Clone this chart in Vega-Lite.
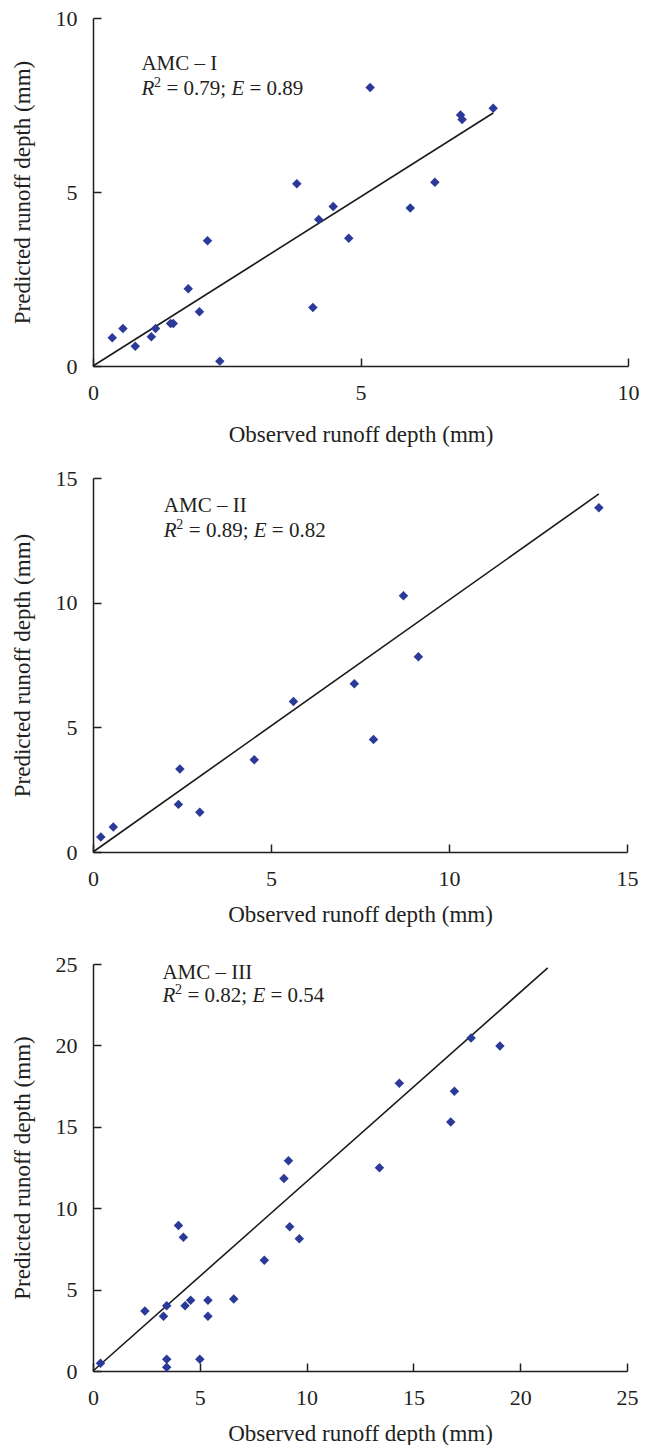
{
  "$schema": "https://vega.github.io/schema/vega-lite/v6.json",
  "padding": {"top": 7, "left": 11, "right": 0, "bottom": 0},
  "spacing": 21,
  "datasets": {
    "p1": [
      {"obs": 0.36, "pred": 0.81}, {"obs": 0.56, "pred": 1.08}, {"obs": 0.79, "pred": 0.57},
      {"obs": 1.09, "pred": 0.84}, {"obs": 1.17, "pred": 1.08}, {"obs": 1.45, "pred": 1.22},
      {"obs": 1.50, "pred": 1.22}, {"obs": 1.78, "pred": 2.22}, {"obs": 1.99, "pred": 1.56},
      {"obs": 2.14, "pred": 3.60}, {"obs": 2.37, "pred": 0.14}, {"obs": 3.81, "pred": 5.24},
      {"obs": 4.11, "pred": 1.68}, {"obs": 4.22, "pred": 4.21}, {"obs": 4.49, "pred": 4.58},
      {"obs": 4.78, "pred": 3.67}, {"obs": 5.18, "pred": 8.00}, {"obs": 5.93, "pred": 4.54},
      {"obs": 6.39, "pred": 5.28}, {"obs": 6.87, "pred": 7.21}, {"obs": 6.90, "pred": 7.08},
      {"obs": 7.48, "pred": 7.41}
    ],
    "l1": [{"obs": 0, "pred": 0}, {"obs": 7.48, "pred": 7.27}],
    "a1": [{"ax": 0.905, "y1": 8.52, "y2": 7.80, "amc": "AMC – I", "r2": "= 0.79;", "e": "= 0.89"}],
    "p2": [
      {"obs": 0.22, "pred": 0.60}, {"obs": 0.57, "pred": 1.00}, {"obs": 2.44, "pred": 3.33},
      {"obs": 2.40, "pred": 1.91}, {"obs": 3.00, "pred": 1.59}, {"obs": 4.53, "pred": 3.70},
      {"obs": 5.63, "pred": 6.04}, {"obs": 7.34, "pred": 6.75}, {"obs": 7.88, "pred": 4.51},
      {"obs": 8.72, "pred": 10.28}, {"obs": 9.14, "pred": 7.83}, {"obs": 14.21, "pred": 13.81}
    ],
    "l2": [{"obs": 0, "pred": 0}, {"obs": 14.21, "pred": 14.36}],
    "a2": [{"ax": 1.99, "y1": 13.64, "y2": 12.64, "amc": "AMC – II", "r2": "= 0.89;", "e": "= 0.82"}],
    "p3": [
      {"obs": 0.35, "pred": 0.47}, {"obs": 2.43, "pred": 3.68}, {"obs": 3.30, "pred": 3.36},
      {"obs": 3.45, "pred": 4.01}, {"obs": 3.45, "pred": 0.72}, {"obs": 3.45, "pred": 0.23},
      {"obs": 4.00, "pred": 8.94}, {"obs": 4.23, "pred": 8.21}, {"obs": 4.31, "pred": 4.01},
      {"obs": 4.57, "pred": 4.34}, {"obs": 5.00, "pred": 0.72}, {"obs": 5.38, "pred": 4.34},
      {"obs": 5.38, "pred": 3.36}, {"obs": 6.59, "pred": 4.42}, {"obs": 8.02, "pred": 6.81},
      {"obs": 8.94, "pred": 11.83}, {"obs": 9.15, "pred": 12.91}, {"obs": 9.21, "pred": 8.86},
      {"obs": 9.66, "pred": 8.12}, {"obs": 13.41, "pred": 12.48}, {"obs": 14.34, "pred": 17.68},
      {"obs": 16.75, "pred": 15.29}, {"obs": 16.92, "pred": 17.19}, {"obs": 17.70, "pred": 20.46},
      {"obs": 19.05, "pred": 19.97}
    ],
    "l3": [{"obs": 0, "pred": 0}, {"obs": 21.29, "pred": 24.76}],
    "a3": [{"ax": 3.25, "y1": 24.08, "y2": 22.65, "amc": "AMC – III", "r2": "= 0.82;", "e": "= 0.54"}]
  },
  "vconcat": [
    {
      "width": 535, "height": 348,
      "layer": [
        {
          "data": {"name": "l1"},
          "mark": {"type": "line", "color": "#1a1a1a", "strokeWidth": 1.6},
          "encoding": {
            "x": {"field": "obs", "type": "quantitative", "scale": {"domain": [0, 10], "nice": false},
                  "axis": {"values": [0, 5, 10], "title": "Observed runoff depth (mm)", "titlePadding": 20}},
            "y": {"field": "pred", "type": "quantitative", "scale": {"domain": [0, 10], "nice": false},
                  "axis": {"values": [0, 5, 10], "title": "Predicted runoff depth (mm)"}}
          }
        },
        {
          "data": {"name": "p1"},
          "mark": {"type": "point", "shape": "diamond", "filled": true, "size": 90, "color": "#2B3A98", "opacity": 1},
          "encoding": {
            "x": {"field": "obs", "type": "quantitative"},
            "y": {"field": "pred", "type": "quantitative"}
          }
        },
        {
          "data": {"name": "a1"},
          "layer": [
            {"mark": {"type": "text", "align": "left", "baseline": "alphabetic", "fontSize": 21, "color": "#231F20"},
             "encoding": {"x": {"field": "ax", "type": "quantitative"}, "y": {"field": "y1", "type": "quantitative"}, "text": {"field": "amc"}}},
            {"mark": {"type": "text", "align": "left", "baseline": "alphabetic", "fontSize": 21, "fontStyle": "italic", "color": "#231F20", "text": "R"},
             "encoding": {"x": {"field": "ax", "type": "quantitative"}, "y": {"field": "y2", "type": "quantitative"}}},
            {"mark": {"type": "text", "align": "left", "baseline": "alphabetic", "fontSize": 14, "dx": 12.5, "dy": -8, "color": "#231F20", "text": "2"},
             "encoding": {"x": {"field": "ax", "type": "quantitative"}, "y": {"field": "y2", "type": "quantitative"}}},
            {"mark": {"type": "text", "align": "left", "baseline": "alphabetic", "fontSize": 21, "dx": 25, "color": "#231F20"},
             "encoding": {"x": {"field": "ax", "type": "quantitative"}, "y": {"field": "y2", "type": "quantitative"}, "text": {"field": "r2"}}},
            {"mark": {"type": "text", "align": "left", "baseline": "alphabetic", "fontSize": 21, "fontStyle": "italic", "dx": 90, "color": "#231F20", "text": "E"},
             "encoding": {"x": {"field": "ax", "type": "quantitative"}, "y": {"field": "y2", "type": "quantitative"}}},
            {"mark": {"type": "text", "align": "left", "baseline": "alphabetic", "fontSize": 21, "dx": 108, "color": "#231F20"},
             "encoding": {"x": {"field": "ax", "type": "quantitative"}, "y": {"field": "y2", "type": "quantitative"}, "text": {"field": "e"}}}
          ]
        }
      ]
    },
    {
      "spacing": 27,
      "vconcat": [
        {
          "width": 534, "height": 374,
          "layer": [
            {
              "data": {"name": "l2"},
              "mark": {"type": "line", "color": "#1a1a1a", "strokeWidth": 1.6},
              "encoding": {
                "x": {"field": "obs", "type": "quantitative", "scale": {"domain": [0, 15], "nice": false},
                      "axis": {"values": [0, 5, 10, 15], "title": "Observed runoff depth (mm)", "titlePadding": 14}},
                "y": {"field": "pred", "type": "quantitative", "scale": {"domain": [0, 15], "nice": false},
                      "axis": {"values": [0, 5, 10, 15], "title": "Predicted runoff depth (mm)"}}
              }
            },
            {
              "data": {"name": "p2"},
              "mark": {"type": "point", "shape": "diamond", "filled": true, "size": 90, "color": "#2B3A98", "opacity": 1},
              "encoding": {
                "x": {"field": "obs", "type": "quantitative"},
                "y": {"field": "pred", "type": "quantitative"}
              }
            },
            {
              "data": {"name": "a2"},
              "layer": [
                {"mark": {"type": "text", "align": "left", "baseline": "alphabetic", "fontSize": 21, "color": "#231F20"},
                 "encoding": {"x": {"field": "ax", "type": "quantitative"}, "y": {"field": "y1", "type": "quantitative"}, "text": {"field": "amc"}}},
                {"mark": {"type": "text", "align": "left", "baseline": "alphabetic", "fontSize": 21, "fontStyle": "italic", "color": "#231F20", "text": "R"},
                 "encoding": {"x": {"field": "ax", "type": "quantitative"}, "y": {"field": "y2", "type": "quantitative"}}},
                {"mark": {"type": "text", "align": "left", "baseline": "alphabetic", "fontSize": 14, "dx": 12.5, "dy": -8, "color": "#231F20", "text": "2"},
                 "encoding": {"x": {"field": "ax", "type": "quantitative"}, "y": {"field": "y2", "type": "quantitative"}}},
                {"mark": {"type": "text", "align": "left", "baseline": "alphabetic", "fontSize": 21, "dx": 25, "color": "#231F20"},
                 "encoding": {"x": {"field": "ax", "type": "quantitative"}, "y": {"field": "y2", "type": "quantitative"}, "text": {"field": "r2"}}},
                {"mark": {"type": "text", "align": "left", "baseline": "alphabetic", "fontSize": 21, "fontStyle": "italic", "dx": 90, "color": "#231F20", "text": "E"},
                 "encoding": {"x": {"field": "ax", "type": "quantitative"}, "y": {"field": "y2", "type": "quantitative"}}},
                {"mark": {"type": "text", "align": "left", "baseline": "alphabetic", "fontSize": 21, "dx": 108, "color": "#231F20"},
                 "encoding": {"x": {"field": "ax", "type": "quantitative"}, "y": {"field": "y2", "type": "quantitative"}, "text": {"field": "e"}}}
              ]
            }
          ]
        },
        {
          "width": 534, "height": 407,
          "layer": [
            {
              "data": {"name": "l3"},
              "mark": {"type": "line", "color": "#1a1a1a", "strokeWidth": 1.6},
              "encoding": {
                "x": {"field": "obs", "type": "quantitative", "scale": {"domain": [0, 25], "nice": false},
                      "axis": {"values": [0, 5, 10, 15, 20, 25], "title": "Observed runoff depth (mm)", "titlePadding": 14}},
                "y": {"field": "pred", "type": "quantitative", "scale": {"domain": [0, 25], "nice": false},
                      "axis": {"values": [0, 5, 10, 15, 20, 25], "title": "Predicted runoff depth (mm)"}}
              }
            },
            {
              "data": {"name": "p3"},
              "mark": {"type": "point", "shape": "diamond", "filled": true, "size": 90, "color": "#2B3A98", "opacity": 1},
              "encoding": {
                "x": {"field": "obs", "type": "quantitative"},
                "y": {"field": "pred", "type": "quantitative"}
              }
            },
            {
              "data": {"name": "a3"},
              "layer": [
                {"mark": {"type": "text", "align": "left", "baseline": "alphabetic", "fontSize": 21, "color": "#231F20"},
                 "encoding": {"x": {"field": "ax", "type": "quantitative"}, "y": {"field": "y1", "type": "quantitative"}, "text": {"field": "amc"}}},
                {"mark": {"type": "text", "align": "left", "baseline": "alphabetic", "fontSize": 21, "fontStyle": "italic", "color": "#231F20", "text": "R"},
                 "encoding": {"x": {"field": "ax", "type": "quantitative"}, "y": {"field": "y2", "type": "quantitative"}}},
                {"mark": {"type": "text", "align": "left", "baseline": "alphabetic", "fontSize": 14, "dx": 12.5, "dy": -8, "color": "#231F20", "text": "2"},
                 "encoding": {"x": {"field": "ax", "type": "quantitative"}, "y": {"field": "y2", "type": "quantitative"}}},
                {"mark": {"type": "text", "align": "left", "baseline": "alphabetic", "fontSize": 21, "dx": 25, "color": "#231F20"},
                 "encoding": {"x": {"field": "ax", "type": "quantitative"}, "y": {"field": "y2", "type": "quantitative"}, "text": {"field": "r2"}}},
                {"mark": {"type": "text", "align": "left", "baseline": "alphabetic", "fontSize": 21, "fontStyle": "italic", "dx": 90, "color": "#231F20", "text": "E"},
                 "encoding": {"x": {"field": "ax", "type": "quantitative"}, "y": {"field": "y2", "type": "quantitative"}}},
                {"mark": {"type": "text", "align": "left", "baseline": "alphabetic", "fontSize": 21, "dx": 108, "color": "#231F20"},
                 "encoding": {"x": {"field": "ax", "type": "quantitative"}, "y": {"field": "y2", "type": "quantitative"}, "text": {"field": "e"}}}
              ]
            }
          ]
        }
      ]
    }
  ],
  "config": {
    "view": {"stroke": null},
    "font": "Liberation Serif",
    "text": {"font": "Liberation Serif"},
    "axis": {
      "grid": false,
      "domainColor": "#231F20", "domainWidth": 1.5,
      "tickColor": "#231F20", "tickWidth": 1.5, "tickSize": -8,
      "labelPadding": 24, "labelFlush": false,
      "labelFont": "Liberation Serif", "labelFontSize": 22, "labelColor": "#231F20",
      "titleFont": "Liberation Serif", "titleFontSize": 23, "titleFontWeight": "normal", "titleColor": "#231F20"
    },
    "axisY": {"titlePadding": 21}
  }
}
